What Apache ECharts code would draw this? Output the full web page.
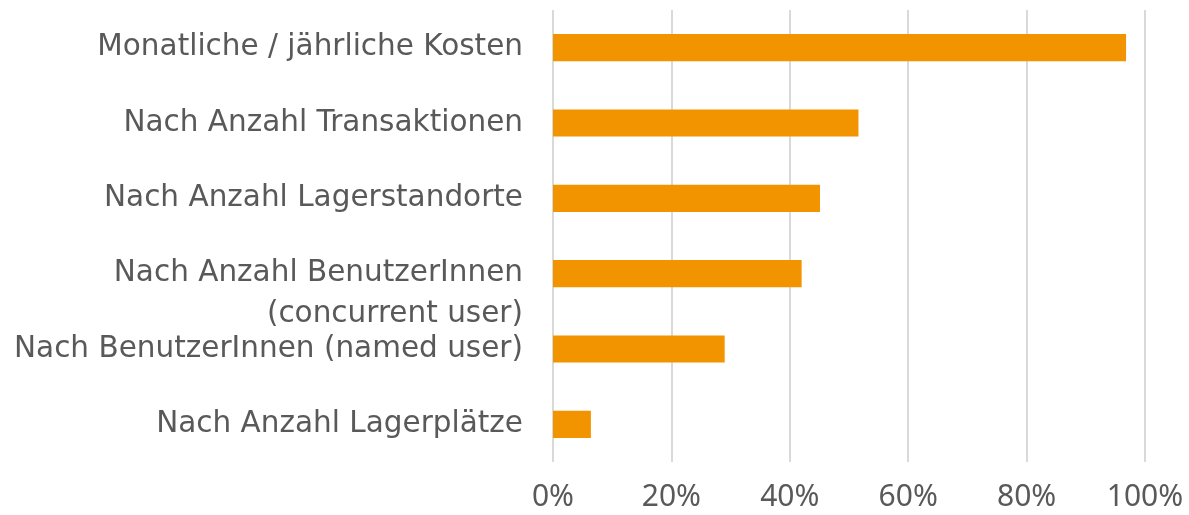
<!DOCTYPE html>
<html>
<head>
<meta charset="utf-8">
<script src="https://cdn.jsdelivr.net/npm/echarts@6/dist/echarts.min.js"></script>
<style>
html,body{margin:0;padding:0;background:#fff;}
#chart{width:1189px;height:515px;}
</style>
</head>
<body>
<div id="chart"></div>
<script>
const categories = [
  "Monatliche / jährliche Kosten",
  "Nach Anzahl Transaktionen",
  "Nach Anzahl Lagerstandorte",
  "Nach Anzahl BenutzerInnen\n(concurrent user)",
  "Nach BenutzerInnen (named user)",
  "Nach Anzahl Lagerplätze"
];
const values = [96.8, 51.6, 45.1, 42.0, 29.0, 6.4];
const xTicks = [0, 20, 40, 60, 80, 100];

const chart = echarts.init(document.getElementById('chart'));
chart.setOption({
  animation: false,
  grid: { left: 553, right: 44, top: 10, bottom: 53, containLabel: false },
  xAxis: {
    type: 'value',
    min: xTicks[0],
    max: xTicks[xTicks.length - 1],
    interval: xTicks[1] - xTicks[0],
    axisLine: { show: false },
    axisTick: { show: false },
    splitLine: { show: true, lineStyle: { color: '#D9D9D9', width: 2 } },
    axisLabel: {
      formatter: v => v + '%',
      color: '#595959',
      fontSize: 30,
      fontFamily: 'Noto Sans',
      margin: 20
    }
  },
  yAxis: {
    type: 'category',
    data: categories,
    inverse: true,
    axisLine: { show: false },
    axisTick: { show: false },
    splitLine: { show: false },
    axisLabel: {
      color: '#595959',
      fontSize: 29.5,
      fontFamily: 'DejaVu Sans',
      margin: 30,
      lineHeight: 41,
      align: 'right',
      formatter: v => v.indexOf('\n') >= 0 ? '\n' + v : v
    }
  },
  series: [{
    type: 'bar',
    data: values,
    barWidth: '36%',
    itemStyle: { color: '#F29400' }
  }]
});
</script>
</body>
</html>
